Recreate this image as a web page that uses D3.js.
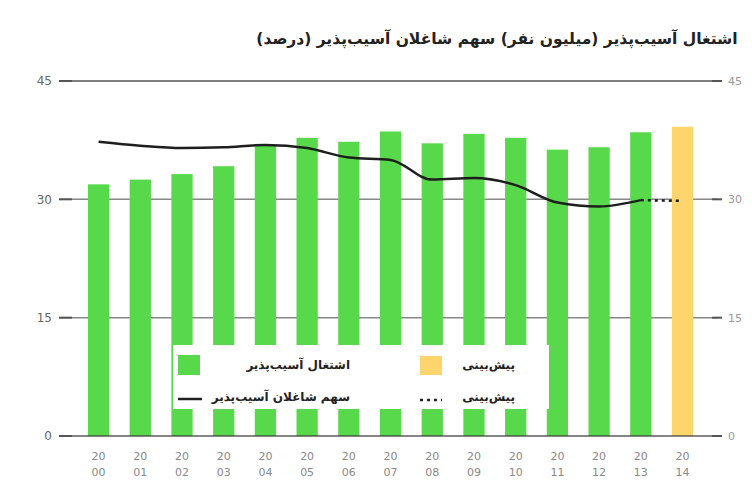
<!DOCTYPE html>
<html>
  <head>
    <meta http-equiv="Content-Type" content="text/html;charset=utf-8">
    <title>Vulnerable employment</title>
    <script type="text/javascript" src="https://d3js.org/d3.v7.min.js"></script>
    <style>
      body {
        margin: 0;
        background: #fff;
        font-family: 'DejaVu Sans', sans-serif;
      }
      .grid line { stroke-width: 1.5px; }
      .tick-label { fill: #666; font-size: 12px; }
      .year-label { fill: #888; font-size: 11px; }
      .title { fill: #222; font-size: 15.5px; font-weight: bold; }
      .legend text { fill: #222; font-size: 12px; font-weight: bold; }
      path.share { fill: none; stroke: #1e1e1e; stroke-width: 2.5px; }
      path.share-forecast { fill: none; stroke: #1e1e1e; stroke-width: 2.5px; stroke-dasharray: 3 4; }
    </style>
  </head>
  <body>
    <div id="chart"></div>
    <script>
// سال‌ها
var years = ["2000","2001","2002","2003","2004","2005","2006","2007","2008","2009","2010","2011","2012","2013","2014"];
// اشتغال آسیب‌پذیر (میلیون نفر) - سال آخر پیش‌بینی
var employment = [31.9, 32.5, 33.2, 34.2, 36.8, 37.8, 37.3, 38.6, 37.1, 38.3, 37.8, 36.3, 36.6, 38.5, 39.2];
var forecastYear = "2014";
// سهم شاغلان آسیب‌پذیر (درصد)
var shareYears = ["2000","2001","2002","2003","2004","2005","2006","2007","2008","2009","2010","2011","2012","2013"];
var share = [37.3, 36.8, 36.5, 36.6, 36.9, 36.5, 35.3, 35.0, 32.5, 32.7, 31.8, 29.6, 29.1, 29.9];
var forecastShareYears = ["2013","2014"];
var forecastShare = [29.9, 29.8];
var yTicks = [0, 15, 30, 45];

var width = 752, height = 491;

var svg = d3.select("#chart").append("svg")
    .attr("width", width)
    .attr("height", height);

var x = d3.scaleBand()
    .domain(years)
    .range([67.5, 713.6])
    .padding(0.49);

var y = d3.scaleLinear()
    .domain([0, 45])
    .range([436, 81]);

var gridL = 59, gridR = 718;

svg.append("text")
    .attr("class", "title")
    .attr("x", 497)
    .attr("y", 44)
    .attr("text-anchor", "middle")
    .attr("direction", "rtl")
    .text("اشتغال آسیب‌پذیر (میلیون نفر) سهم شاغلان آسیب‌پذیر (درصد)");

// خطوط راهنما
var grid = svg.append("g").attr("class", "grid");
grid.selectAll("line")
    .data(yTicks.filter(function(d) { return d > 0; }))
  .enter().append("line")
    .attr("x1", gridL).attr("x2", gridR)
    .attr("y1", function(d) { return y(d); })
    .attr("y2", function(d) { return y(d); })
    .attr("stroke", function(d) { return d == 45 ? "#555" : "#888"; });

svg.selectAll(".tick-label.left")
    .data(yTicks)
  .enter().append("text")
    .attr("class", "tick-label left")
    .attr("x", 52)
    .attr("y", function(d) { return y(d); })
    .attr("dy", "0.35em")
    .attr("text-anchor", "end")
    .text(function(d) { return d; });

svg.selectAll(".tick-label.right")
    .data(yTicks)
  .enter().append("text")
    .attr("class", "tick-label right")
    .attr("x", 728)
    .attr("y", function(d) { return y(d); })
    .attr("dy", "0.35em")
    .style("fill", "#999")
    .style("font-size", "11px")
    .text(function(d) { return d; });

// میله‌ها
svg.selectAll("rect.bar")
    .data(years)
  .enter().append("rect")
    .attr("class", "bar")
    .attr("x", function(d) { return x(d); })
    .attr("width", x.bandwidth())
    .attr("y", function(d, i) { return y(employment[i]); })
    .attr("height", function(d, i) { return y(0) - y(employment[i]); })
    .attr("fill", function(d) { return d == forecastYear ? "#fdd56c" : "#58d94b"; });

// خط پایه
svg.append("line")
    .attr("x1", gridL).attr("x2", gridR)
    .attr("y1", y(0)).attr("y2", y(0))
    .attr("stroke", "#333")
    .attr("stroke-opacity", 0.6)
    .attr("stroke-width", 2);

// تیک‌های دو طرف
svg.selectAll(".tk")
    .data(yTicks)
  .enter().append("g")
    .attr("class", "tk")
    .each(function(d) {
      var g = d3.select(this);
      g.append("line").attr("x1", gridL).attr("x2", gridL + 13)
        .attr("y1", y(d)).attr("y2", y(d)).attr("stroke", "#555").attr("stroke-width", 2);
      g.append("line").attr("x1", gridR - 6).attr("x2", gridR + 4)
        .attr("y1", y(d)).attr("y2", y(d)).attr("stroke", "#555").attr("stroke-width", 2);
    });

var line = d3.line()
    .x(function(d) { return x(d[0]) + x.bandwidth() / 2; })
    .y(function(d) { return y(d[1]); })
    .curve(d3.curveMonotoneX);

svg.append("path")
    .attr("class", "share")
    .attr("d", line(d3.zip(shareYears, share)));

svg.append("path")
    .attr("class", "share-forecast")
    .attr("d", line(d3.zip(forecastShareYears, forecastShare)));

// برچسب سال‌ها
var yl = svg.selectAll(".year-label")
    .data(years)
  .enter().append("text")
    .attr("class", "year-label")
    .attr("text-anchor", "middle")
    .attr("x", function(d) { return x(d) + x.bandwidth() / 2; })
    .attr("y", 460);
yl.append("tspan").text(function(d) { return d.slice(0, 2); });
yl.append("tspan")
    .attr("x", function(d) { return x(d) + x.bandwidth() / 2; })
    .attr("dy", 16)
    .text(function(d) { return d.slice(2); });

// راهنما
var legend = svg.append("g").attr("class", "legend");
legend.append("rect")
    .attr("x", 173).attr("y", 345)
    .attr("width", 376).attr("height", 64)
    .attr("fill", "#fff");
legend.append("rect").attr("x", 178).attr("y", 355).attr("width", 22).attr("height", 20).attr("fill", "#58d94b");
legend.append("text").attr("x", 350).attr("y", 369).attr("text-anchor", "start").attr("direction", "rtl")
    .text("اشتغال آسیب‌پذیر");
legend.append("line").attr("x1", 178).attr("x2", 202).attr("y1", 399).attr("y2", 399)
    .attr("stroke", "#1e1e1e").attr("stroke-width", 2.5);
legend.append("text").attr("x", 350).attr("y", 401).attr("text-anchor", "start").attr("direction", "rtl")
    .text("سهم شاغلان آسیب‌پذیر");
legend.append("rect").attr("x", 420).attr("y", 356).attr("width", 22).attr("height", 19).attr("fill", "#fdd56c");
legend.append("text").attr("x", 515).attr("y", 369).attr("text-anchor", "start").attr("direction", "rtl")
    .text("پیش‌بینی");
legend.append("line").attr("x1", 420).attr("x2", 442).attr("y1", 400).attr("y2", 400)
    .attr("stroke", "#1e1e1e").attr("stroke-width", 2.5).attr("stroke-dasharray", "3 4");
legend.append("text").attr("x", 515).attr("y", 401).attr("text-anchor", "start").attr("direction", "rtl")
    .text("پیش‌بینی");
    </script>
  </body>
</html>
